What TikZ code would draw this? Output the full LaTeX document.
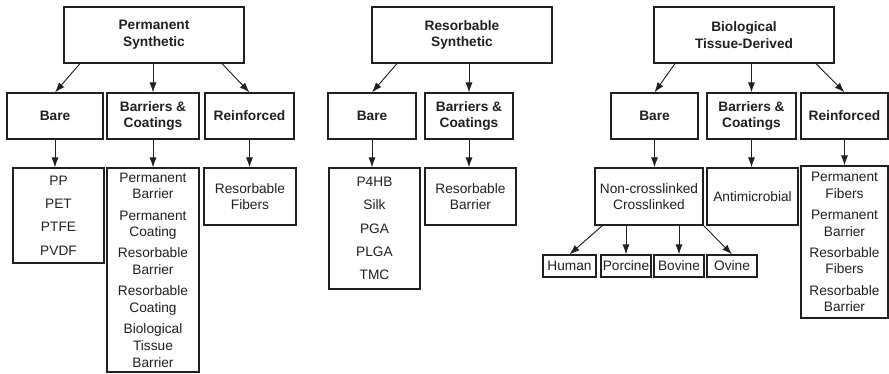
\documentclass[tikz,border=0pt]{standalone}
\usepackage{fontspec}
\setmainfont{Liberation Sans}
\usepackage{xcolor}
\usepackage{tikz}
\usetikzlibrary{arrows.meta, positioning}
\definecolor{ink}{HTML}{231F20}
\tikzset{
  box/.style={draw=ink, line width=1.2pt, inner sep=0pt, align=center, text=ink,
    font=\fontsize{13.7}{16.7}\selectfont},
  headbox/.style={box, font=\fontsize{13.7}{16.7}\selectfont\bfseries},
  arr/.style={draw=ink, fill=ink, line width=0.9pt, -{Latex[length=10pt, width=7pt]}}
}

\begin{document}
\begin{tikzpicture}[x=1pt, y=-1pt]
          \useasboundingbox (0,0) rectangle (889,373);
          % top level
          \node[headbox, minimum width=180, minimum height=56] (perm) at (154,35) {Permanent\\Synthetic};
          \node[headbox, minimum width=180, minimum height=56] (res) at (462,35) {Resorbable\\Synthetic};
          \node[headbox, minimum width=180, minimum height=56] (bio) at (744,35) {Biological\\Tissue-Derived};
          % second level
          \node[headbox, minimum width=96, minimum height=46] (pbare) at (55,116) {Bare};
          \node[headbox, minimum width=92, minimum height=46] (pbarr) at (153,116) {Barriers \&\\Coatings};
          \node[headbox, minimum width=89, minimum height=46] (preinf) at (249.5,116) {Reinforced};
          \node[headbox, minimum width=88, minimum height=46] (rbare) at (372,116) {Bare};
          \node[headbox, minimum width=88, minimum height=46] (rbarr) at (469,116) {Barriers \&\\Coatings};
          \node[headbox, minimum width=87, minimum height=46] (bbare) at (654.5,116) {Bare};
          \node[headbox, minimum width=89, minimum height=46] (bbarr) at (751.5,116) {Barriers \&\\Coatings};
          \node[headbox, minimum width=87, minimum height=46] (breinf) at (844.5,116) {Reinforced};
          % third level
          \node[box, minimum width=91, minimum height=95] (ppoly) at (58.5,215.5) {PP\\[6.5pt]PET\\[6.5pt]PTFE\\[6.5pt]PVDF};
          \node[box, minimum width=92, minimum height=204] (pcoat) at (153,270)
            {Permanent\\Barrier\\[4.5pt]Permanent\\Coating\\[4.5pt]Resorbable\\Barrier\\[4.5pt]Resorbable\\Coating\\[4.5pt]Biological\\Tissue\\Barrier};
          \node[box, minimum width=92, minimum height=57] (pfib) at (250,196.5) {Resorbable\\Fibers};
          \node[box, minimum width=91, minimum height=121] (rpoly) at (374.5,228.5) {P4HB\\[6.5pt]Silk\\[6.5pt]PGA\\[6.5pt]PLGA\\[6.5pt]TMC};
          \node[box, minimum width=91, minimum height=57] (rcoat) at (470.5,196.5) {Resorbable\\Barrier};
          \node[box, minimum width=108, minimum height=57] (bcross) at (649,196.5) {Non-crosslinked\\Crosslinked};
          \node[box, minimum width=91, minimum height=57] (bmicro) at (752.5,196.5) {Antimicrobial};
          \node[box, minimum width=87, minimum height=152] (bfib) at (844.5,242)
            {Permanent\\Fibers\\[4.5pt]Permanent\\Barrier\\[4.5pt]Resorbable\\Fibers\\[4.5pt]Resorbable\\Barrier};
          % tissue sources
          \foreach \name/\x/\w/\txt in {human/569.5/53/Human, porcine/626/50/Porcine, bovine/679/50/Bovine, ovine/732/50/Ovine}
            \node[box, minimum width=\w, minimum height=22] (\name) at (\x,266) {\txt};
          % arrows
          \draw[arr] ([xshift=-74pt]perm.south) -- (pbare.north);
          \draw[arr] (perm.south -| pbarr) -- (pbarr.north);
          \draw[arr] ([xshift=68pt]perm.south) -- (preinf.north);
          \draw[arr] ([xshift=-65pt]res.south) -- (rbare.north);
          \draw[arr] (res.south -| rbarr) -- (rbarr.north);
          \draw[arr] ([xshift=-69pt]bio.south) -- (bbare.north);
          \draw[arr] (bio.south -| bbarr) -- (bbarr.north);
          \draw[arr] ([xshift=72pt]bio.south) -- (breinf.north);
          \foreach \a/\b in {pbare/ppoly, pbarr/pcoat, preinf/pfib, rbare/rpoly, rbarr/rcoat, bbare/bcross, bbarr/bmicro, breinf/bfib}
            \draw[arr] (\a.south) -- (\a.south |- \b.north);
          \draw[arr] ([xshift=8pt]bcross.south west) -- (human.north);
          \draw[arr] (bcross.south -| porcine) -- (porcine.north);
          \draw[arr] (bcross.south -| bovine) -- (bovine.north);
          \draw[arr] (bcross.south east) -- (ovine.north);
        \end{tikzpicture}
\end{document}
